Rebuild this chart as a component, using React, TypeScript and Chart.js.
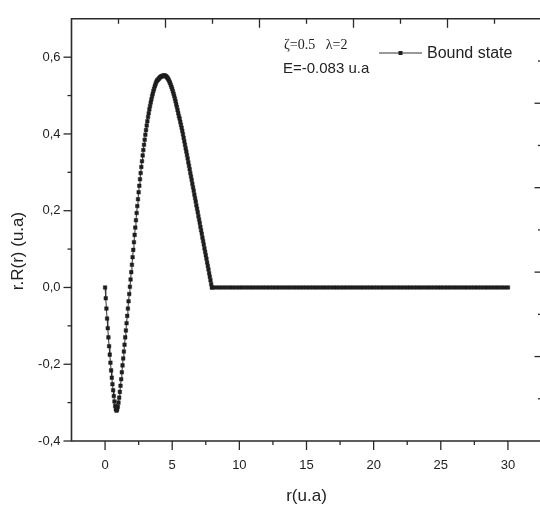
import React, { useEffect, useRef } from "react";
import { Chart, registerables } from "chart.js";

Chart.register(...registerables);

// radial coordinate r (u.a)
const rValues = [
  0, 0.05, 0.1, 0.15, 0.2, 0.25, 0.3, 0.35, 0.4, 0.45,
  0.5, 0.55, 0.6, 0.65, 0.7, 0.75, 0.8, 0.85, 0.9, 0.95,
  1, 1.05, 1.1, 1.15, 1.2, 1.25, 1.3, 1.35, 1.4, 1.45,
  1.5, 1.55, 1.6, 1.65, 1.7, 1.75, 1.8, 1.85, 1.9, 1.95,
  2, 2.05, 2.1, 2.15, 2.2, 2.25, 2.3, 2.35, 2.4, 2.45,
  2.5, 2.55, 2.6, 2.65, 2.7, 2.75, 2.8, 2.85, 2.9, 2.95,
  3, 3.05, 3.1, 3.15, 3.2, 3.25, 3.3, 3.35, 3.4, 3.45,
  3.5, 3.55, 3.6, 3.65, 3.7, 3.75, 3.8, 3.85, 3.9, 3.95,
  4, 4.05, 4.1, 4.15, 4.2, 4.25, 4.3, 4.35, 4.4, 4.45,
  4.5, 4.55, 4.6, 4.65, 4.7, 4.75, 4.8, 4.85, 4.9, 4.95,
  5, 5.05, 5.1, 5.15, 5.2, 5.25, 5.3, 5.35, 5.4, 5.45,
  5.5, 5.55, 5.6, 5.65, 5.7, 5.75, 5.8, 5.85, 5.9, 5.95,
  6, 6.05, 6.1, 6.15, 6.2, 6.25, 6.3, 6.35, 6.4, 6.45,
  6.5, 6.55, 6.6, 6.65, 6.7, 6.75, 6.8, 6.85, 6.9, 6.95,
  7, 7.05, 7.1, 7.15, 7.2, 7.25, 7.3, 7.35, 7.4, 7.45,
  7.5, 7.55, 7.6, 7.65, 7.7, 7.75, 7.8, 7.85, 7.9, 7.95,
  8, 8.25, 8.5, 8.75, 9, 9.25, 9.5, 9.75, 10, 10.25,
  10.5, 10.75, 11, 11.25, 11.5, 11.75, 12, 12.25, 12.5, 12.75,
  13, 13.25, 13.5, 13.75, 14, 14.25, 14.5, 14.75, 15, 15.25,
  15.5, 15.75, 16, 16.25, 16.5, 16.75, 17, 17.25, 17.5, 17.75,
  18, 18.25, 18.5, 18.75, 19, 19.25, 19.5, 19.75, 20, 20.25,
  20.5, 20.75, 21, 21.25, 21.5, 21.75, 22, 22.25, 22.5, 22.75,
  23, 23.25, 23.5, 23.75, 24, 24.25, 24.5, 24.75, 25, 25.25,
  25.5, 25.75, 26, 26.25, 26.5, 26.75, 27, 27.25, 27.5, 27.75,
  28, 28.25, 28.5, 28.75, 29, 29.25, 29.5, 29.75, 30,
];

// r.R(r) (u.a), bound state
const psiValues = [
  0, -0.028, -0.055, -0.081, -0.106, -0.13, -0.153, -0.175, -0.196, -0.216,
  -0.235, -0.252, -0.268, -0.283, -0.297, -0.309, -0.317, -0.321, -0.318, -0.311,
  -0.3, -0.287, -0.272, -0.256, -0.239, -0.221, -0.203, -0.185, -0.167, -0.149,
  -0.13, -0.112, -0.093, -0.074, -0.055, -0.036, -0.017, 0.002, 0.021, 0.04,
  0.059, 0.079, 0.098, 0.118, 0.137, 0.156, 0.175, 0.194, 0.212, 0.23,
  0.248, 0.265, 0.282, 0.298, 0.314, 0.329, 0.344, 0.358, 0.372, 0.385,
  0.398, 0.41, 0.422, 0.433, 0.444, 0.454, 0.464, 0.473, 0.482, 0.49,
  0.498, 0.505, 0.512, 0.518, 0.524, 0.529, 0.534, 0.538, 0.54, 0.542,
  0.544, 0.546, 0.548, 0.549, 0.55, 0.551, 0.551, 0.552, 0.552, 0.552,
  0.551, 0.55, 0.548, 0.546, 0.543, 0.54, 0.536, 0.532, 0.527, 0.522,
  0.517, 0.511, 0.505, 0.499, 0.492, 0.485, 0.477, 0.47, 0.462, 0.454,
  0.446, 0.44, 0.432, 0.424, 0.416, 0.408, 0.399, 0.39, 0.381, 0.372,
  0.363, 0.354, 0.345, 0.336, 0.326, 0.317, 0.308, 0.298, 0.289, 0.28,
  0.27, 0.261, 0.252, 0.242, 0.233, 0.224, 0.214, 0.205, 0.196, 0.186,
  0.177, 0.168, 0.158, 0.149, 0.14, 0.13, 0.121, 0.112, 0.102, 0.093,
  0.084, 0.075, 0.065, 0.056, 0.047, 0.037, 0.028, 0.019, 0.009, 0,
  0, 0, 0, 0, 0, 0, 0, 0, 0, 0,
  0, 0, 0, 0, 0, 0, 0, 0, 0, 0,
  0, 0, 0, 0, 0, 0, 0, 0, 0, 0,
  0, 0, 0, 0, 0, 0, 0, 0, 0, 0,
  0, 0, 0, 0, 0, 0, 0, 0, 0, 0,
  0, 0, 0, 0, 0, 0, 0, 0, 0, 0,
  0, 0, 0, 0, 0, 0, 0, 0, 0, 0,
  0, 0, 0, 0, 0, 0, 0, 0, 0, 0,
  0, 0, 0, 0, 0, 0, 0, 0, 0,
];

const seriesLabel = "Bound state";
const paramText = "\u03b6=0.5   \u03bb=2";
const energyText = "E=-0.083 u.a";
const xTitle = "r(u.a)";
const yTitle = "r.R(r) (u.a)";

const xMin = -2.5;
const xMax = 32.5;
const yMin = -0.4;
const yMax = 0.7;
const xTickValues = [0, 5, 10, 15, 20, 25, 30];
const xTickLabels = ["0", "5", "10", "15", "20", "25", "30"];
const xMinorTicks = [2.5, 7.5, 12.5, 17.5, 22.5, 27.5];
const yTickValues = [-0.4, -0.2, 0, 0.2, 0.4, 0.6];
const yTickLabels = ["-0,4", "-0,2", "0,0", "0,2", "0,4", "0,6"];
const yMinorTicks = [-0.3, -0.1, 0.1, 0.3, 0.5];
// secondary (top / right) frame axes: 0..10, unlabeled
const frameMajorTicks = [2, 4, 6, 8];
const frameMinorTicks = [1, 3, 5, 7, 9];

const SANS = '"Liberation Sans", Arial, Helvetica, sans-serif';
const SERIF = '"Liberation Serif", "Times New Roman", serif';
const INK = "#1e1e1e";

export default function App() {
  const ref = useRef<HTMLCanvasElement>(null);

  useEffect(() => {
    const canvas = ref.current;
    if (!canvas) return;

    const framePlugin = {
      id: "framePlugin",
      afterDraw(chart: any) {
        const { ctx, chartArea: a, scales } = chart;
        const sx = scales.x;
        const sy = scales.y;
        const sx2 = scales.x2;
        const sy2 = scales.y2;
        ctx.save();
        ctx.strokeStyle = "#2a2a2a";
        ctx.lineWidth = 1.6;
        ctx.beginPath();
        ctx.rect(a.left, a.top, a.right - a.left, a.bottom - a.top);
        ctx.stroke();

        ctx.lineWidth = 1.3;
        const seg = (x1: number, y1: number, x2: number, y2: number) => {
          ctx.beginPath();
          ctx.moveTo(x1, y1);
          ctx.lineTo(x2, y2);
          ctx.stroke();
        };
        xTickValues.forEach((v) => {
          const p = sx.getPixelForValue(v);
          seg(p, a.bottom, p, a.bottom + 9);
        });
        xMinorTicks.forEach((v) => {
          const p = sx.getPixelForValue(v);
          seg(p, a.bottom, p, a.bottom + 4);
        });
        yTickValues.forEach((v) => {
          const p = sy.getPixelForValue(v);
          seg(a.left - 8, p, a.left, p);
        });
        yMinorTicks.forEach((v) => {
          const p = sy.getPixelForValue(v);
          seg(a.left - 4, p, a.left, p);
        });
        frameMajorTicks.forEach((v) => {
          const px = sx2.getPixelForValue(v);
          seg(px, a.top, px, a.top + 9);
          const py = sy2.getPixelForValue(v);
          seg(a.right - 7, py, a.right, py);
        });
        frameMinorTicks.forEach((v) => {
          const px = sx2.getPixelForValue(v);
          seg(px, a.top, px, a.top + 5);
          const py = sy2.getPixelForValue(v);
          seg(a.right - 3.5, py, a.right, py);
        });

        // axis titles
        ctx.fillStyle = "#222";
        ctx.font = `17px ${SANS}`;
        ctx.textAlign = "center";
        ctx.textBaseline = "middle";
        ctx.fillText(xTitle, (a.left + a.right) / 2, 496);
        ctx.save();
        ctx.translate(18, a.top + (a.bottom - a.top) * 0.55);
        ctx.rotate(-Math.PI / 2);
        ctx.fillText(yTitle, 0, 0);
        ctx.restore();

        // annotation
        ctx.textAlign = "left";
        ctx.font = `14px ${SERIF}`;
        ctx.fillText(paramText, 284, 45);
        ctx.font = `15px ${SANS}`;
        ctx.fillText(energyText, 283, 69);

        // legend
        const ds = chart.data.datasets[0];
        ctx.strokeStyle = ds.borderColor;
        ctx.lineWidth = 1;
        seg(379, 53, 422, 53);
        ctx.fillStyle = ds.pointBackgroundColor;
        ctx.fillRect(398.5, 51, 4, 4);
        ctx.fillStyle = "#222";
        ctx.font = `16px ${SANS}`;
        ctx.fillText(ds.label, 427, 54);
        ctx.restore();
      },
    };

    const chart = new Chart(canvas, {
      type: "line",
      data: {
        datasets: [
          {
            label: seriesLabel,
            data: rValues.map((r, i) => ({ x: r, y: psiValues[i] })),
            borderColor: "#333",
            borderWidth: 1,
            pointStyle: "rect",
            pointRadius: 2.5,
            pointBorderWidth: 0.5,
            pointBackgroundColor: INK,
            pointBorderColor: INK,
            tension: 0,
            fill: false,
          },
        ],
      },
      options: {
        responsive: false,
        animation: false,
        devicePixelRatio: 1,
        layout: { padding: { top: 15, right: 2, left: 0, bottom: 0 } },
        plugins: {
          legend: { display: false },
          tooltip: { enabled: false },
          title: { display: false },
        },
        scales: {
          x: {
            type: "linear",
            position: "bottom",
            min: xMin,
            max: xMax,
            grid: { display: false, drawTicks: false },
            border: { display: false },
            afterBuildTicks: (s: any) => {
              s.ticks = xTickValues.map((v) => ({ value: v }));
            },
            afterFit: (s: any) => {
              s.height = 66;
            },
            ticks: {
              padding: 17,
              color: "#222",
              font: { family: SANS, size: 13 },
              maxRotation: 0,
              autoSkip: false,
              callback: (v: any) => {
                const i = xTickValues.findIndex((t) => Math.abs(t - v) < 1e-9);
                return i >= 0 ? xTickLabels[i] : "";
              },
            },
          },
          y: {
            type: "linear",
            position: "left",
            min: yMin,
            max: yMax,
            grid: { display: false, drawTicks: false },
            border: { display: false },
            afterBuildTicks: (s: any) => {
              s.ticks = yTickValues.map((v) => ({ value: v }));
            },
            afterFit: (s: any) => {
              s.width = 71.5;
            },
            ticks: {
              padding: 11,
              color: "#222",
              font: { family: SANS, size: 13 },
              autoSkip: false,
              callback: (v: any) => {
                const i = yTickValues.findIndex((t) => Math.abs(t - v) < 1e-9);
                return i >= 0 ? yTickLabels[i] : "";
              },
            },
          },
          x2: {
            type: "linear",
            position: "top",
            display: false,
            min: 0,
            max: 10,
          },
          y2: {
            type: "linear",
            position: "right",
            display: false,
            min: 0,
            max: 10,
          },
        },
      },
      plugins: [framePlugin],
    } as any);

    return () => chart.destroy();
  }, []);

  return (
    <div
      style={{
        position: "fixed",
        left: 0,
        top: 0,
        width: 540,
        height: 507,
        overflow: "hidden",
        background: "#fff",
      }}
    >
      <canvas ref={ref} width={546} height={507} style={{ display: "block", width: 546, height: 507 }} />
    </div>
  );
}
